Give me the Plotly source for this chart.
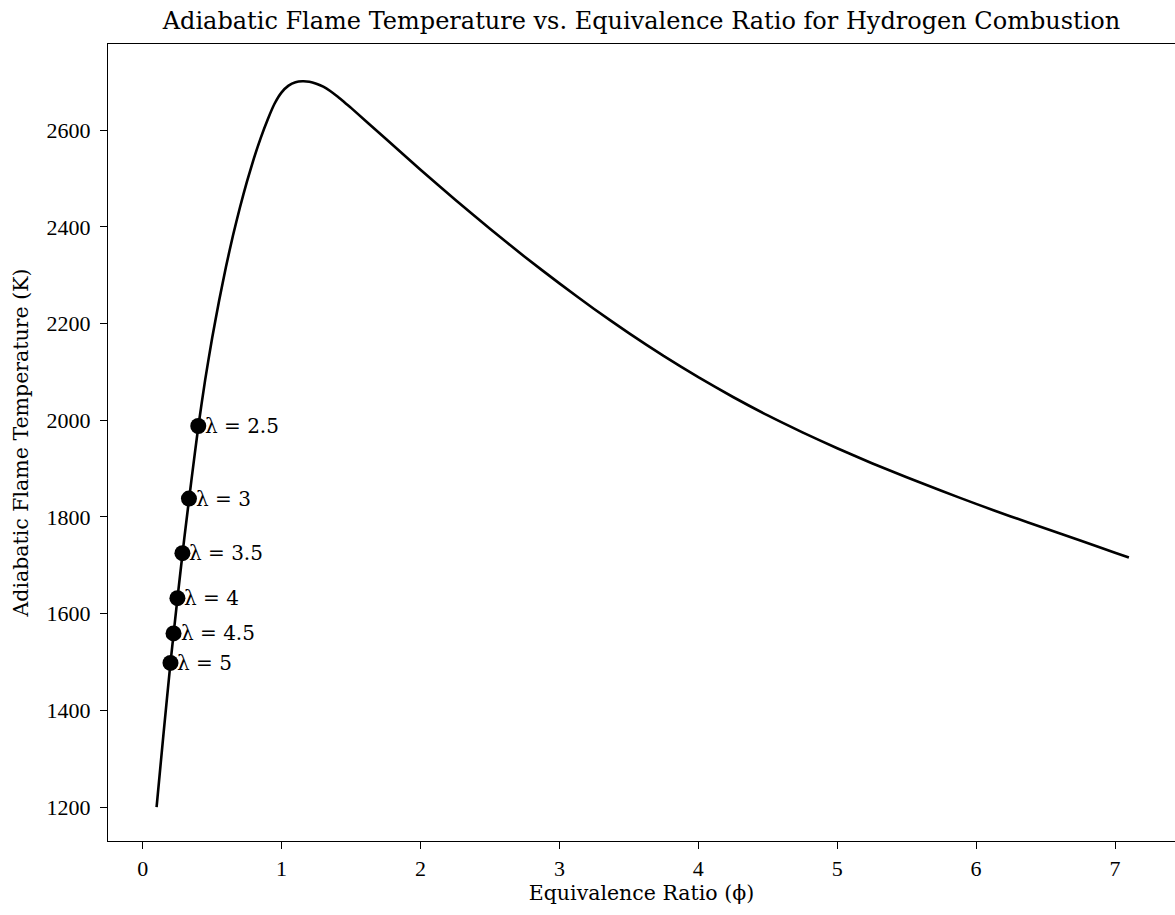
import plotly.graph_objects as go

# Curve: equivalence ratio (phi) vs adiabatic flame temperature (K)
phi = [0.10, 0.15, 0.20, 0.25, 0.30, 0.35, 0.40, 0.45, 0.50, 0.55, 0.60, 0.65,
       0.70, 0.75, 0.80, 0.85, 0.90, 0.95, 1.00, 1.05, 1.10, 1.15, 1.20, 1.25,
       1.30, 1.35, 1.40, 1.45, 1.50, 1.75, 2.00, 2.25, 2.50, 2.75, 3.00, 3.25,
       3.50, 3.75, 4.00, 4.25, 4.50, 4.75, 5.00, 5.25, 5.50, 5.75, 6.00, 6.25,
       6.50, 6.75, 7.00, 7.10]
temp = [1200, 1352, 1498, 1631, 1757, 1874, 1986, 2084, 2170, 2247, 2318, 2382,
        2440, 2493, 2541, 2584, 2622, 2655, 2678, 2692, 2699, 2701, 2700, 2696,
        2690, 2681, 2670, 2658, 2646, 2582, 2518, 2456, 2396, 2338, 2283, 2230,
        2180, 2133, 2089, 2048, 2010, 1975, 1942, 1911, 1882, 1854, 1827, 1801,
        1776, 1751, 1726, 1716]

# Marked points (air-excess ratio lambda)
lam_labels = ["2.5", "3", "3.5", "4", "4.5", "5"]
lam_phi = [0.400, 0.333, 0.286, 0.250, 0.222, 0.200]
lam_temp = [1988, 1838, 1725, 1632, 1559, 1498]

title_text = "Adiabatic Flame Temperature vs. Equivalence Ratio for Hydrogen Combustion"
x_title = "Equivalence Ratio (ϕ)"
y_title = "Adiabatic Flame Temperature (K)"
x_ticks = [0, 1, 2, 3, 4, 5, 6, 7]
y_ticks = [1200, 1400, 1600, 1800, 2000, 2200, 2400, 2600]

label_font = "DejaVu Serif"
tick_font = "Liberation Serif"

fig = go.Figure()
fig.add_trace(go.Scatter(x=phi, y=temp, mode="lines",
                         line=dict(color="black", width=2.6, shape="spline", smoothing=0.5),
                         hoverinfo="skip", showlegend=False))
fig.add_trace(go.Scatter(x=lam_phi, y=lam_temp, mode="markers",
                         marker=dict(color="black", size=16),
                         showlegend=False))

for lab, xv, yv in zip(lam_labels, lam_phi, lam_temp):
    fig.add_annotation(x=xv, y=yv, text="λ = " + lab, showarrow=False,
                       xanchor="left", yanchor="middle", xshift=5,
                       font=dict(family=label_font, size=20, color="black"))

axis_common = dict(showline=True, linecolor="black", linewidth=1.4,
                   ticks="outside", ticklen=7, tickwidth=1.4, tickcolor="black",
                   showgrid=False, zeroline=False,
                   tickfont=dict(family=tick_font, size=22, color="black"))

fig.update_layout(
    width=1175, height=915,
    margin=dict(l=108, r=0, t=44, b=74),
    paper_bgcolor="white", plot_bgcolor="white",
    title=dict(text=title_text, x=0.5, xref="paper", xanchor="center",
               y=1 - 21 / 915, yref="container", yanchor="middle",
               font=dict(family=label_font, size=24, color="black")),
    xaxis=dict(range=[-0.2498, 7.432], tickvals=x_ticks, mirror=True,
               ticklabelstandoff=0,
               title=dict(text=x_title, standoff=4,
                          font=dict(family=label_font, size=20.5, color="black")),
               **axis_common),
    yaxis=dict(range=[1129.7, 2778.1], tickvals=y_ticks,
               ticklabelstandoff=5,
               title=dict(text=y_title, standoff=12,
                          font=dict(family=label_font, size=20.5, color="black")),
               **axis_common),
)

fig.write_html("out.html")
